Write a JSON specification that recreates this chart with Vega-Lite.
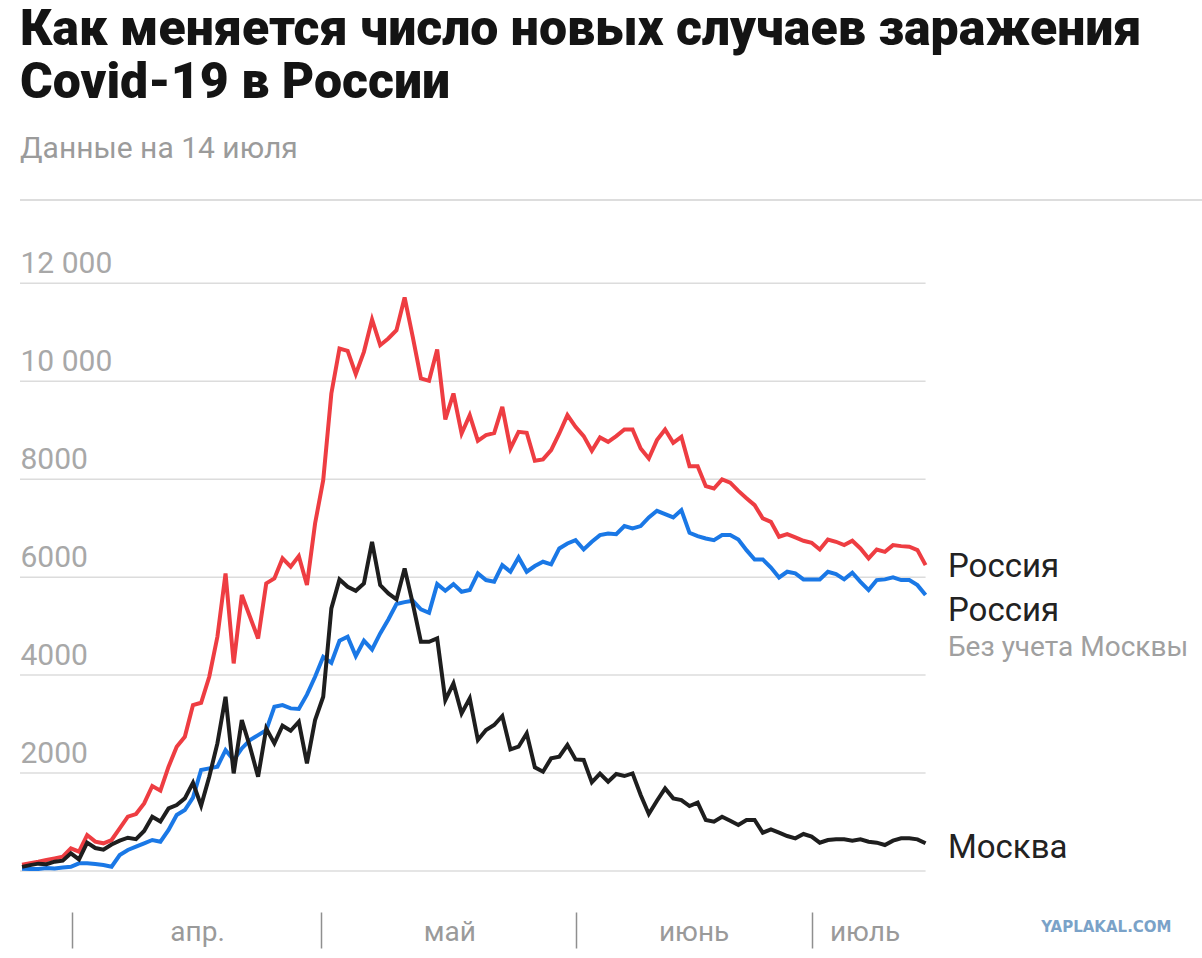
{
  "$schema": "https://vega.github.io/schema/vega-lite/v6.json",
  "width": 1182,
  "height": 671,
  "autosize": {"type": "none"},
  "padding": {"left": 20, "top": 200, "right": 0, "bottom": 87},
  "background": "white",
  "config": {"font": "Roboto", "view": {"stroke": null}},
  "title": {
    "text": ["Как меняется число новых случаев заражения", "Covid-19 в России"],
    "subtitle": "Данные на 14 июля",
    "anchor": "start",
    "frame": "group",
    "font": "Roboto",
    "fontSize": 50,
    "fontWeight": 900,
    "color": "#141414",
    "lineHeight": 53,
    "subtitleFont": "Roboto",
    "subtitleFontSize": 30,
    "subtitleColor": "#9b9b9b",
    "subtitlePadding": 26,
    "offset": 35
  },
  "layer": [
    {
      "data": {"values": [{}]},
      "mark": {"type": "rule", "color": "#dddddd", "strokeWidth": 2},
      "encoding": {
        "y": {"datum": 13700, "type": "quantitative"},
        "x": {"datum": {"year": 2020, "month": 3, "date": 24, "hours": 18, "utc": true}, "type": "temporal"},
        "x2": {"datum": {"year": 2020, "month": 8, "date": 16, "hours": 23, "utc": true}}
      }
    },
    {
      "data": {"values": [{"v": 0}, {"v": 2000}, {"v": 4000}, {"v": 6000}, {"v": 8000}, {"v": 10000}, {"v": 12000}]},
      "mark": {"type": "rule", "color": "#dcdcdc", "strokeWidth": 1.5},
      "encoding": {
        "y": {"field": "v", "type": "quantitative"},
        "x": {"datum": {"year": 2020, "month": 3, "date": 24, "hours": 18, "utc": true}, "type": "temporal"},
        "x2": {"datum": {"year": 2020, "month": 7, "date": 14, "utc": true}}
      }
    },
    {
      "data": {
        "values": [
          {"date": "2020-03-25", "ru": 130, "reg": 45, "msk": 85},
          {"date": "2020-03-26", "ru": 160, "reg": 40, "msk": 120},
          {"date": "2020-03-27", "ru": 190, "reg": 40, "msk": 150},
          {"date": "2020-03-28", "ru": 224, "reg": 60, "msk": 140},
          {"date": "2020-03-29", "ru": 258, "reg": 50, "msk": 190},
          {"date": "2020-03-30", "ru": 292, "reg": 70, "msk": 211},
          {"date": "2020-03-31", "ru": 462, "reg": 85, "msk": 361},
          {"date": "2020-04-01", "ru": 394, "reg": 156, "msk": 238},
          {"date": "2020-04-02", "ru": 734, "reg": 156, "msk": 578},
          {"date": "2020-04-03", "ru": 599, "reg": 143, "msk": 469},
          {"date": "2020-04-04", "ru": 565, "reg": 122, "msk": 435},
          {"date": "2020-04-05", "ru": 633, "reg": 88, "msk": 540},
          {"date": "2020-04-06", "ru": 871, "reg": 326, "msk": 620},
          {"date": "2020-04-07", "ru": 1109, "reg": 429, "msk": 680},
          {"date": "2020-04-08", "ru": 1163, "reg": 497, "msk": 650},
          {"date": "2020-04-09", "ru": 1381, "reg": 565, "msk": 816},
          {"date": "2020-04-10", "ru": 1735, "reg": 633, "msk": 1109},
          {"date": "2020-04-11", "ru": 1640, "reg": 599, "msk": 1010},
          {"date": "2020-04-12", "ru": 2129, "reg": 837, "msk": 1279},
          {"date": "2020-04-13", "ru": 2537, "reg": 1143, "msk": 1347},
          {"date": "2020-04-14", "ru": 2741, "reg": 1245, "msk": 1483},
          {"date": "2020-04-15", "ru": 3388, "reg": 1500, "msk": 1800},
          {"date": "2020-04-16", "ru": 3435, "reg": 2061, "msk": 1334},
          {"date": "2020-04-17", "ru": 3966, "reg": 2095, "msk": 1925},
          {"date": "2020-04-18", "ru": 4782, "reg": 2129, "msk": 2605},
          {"date": "2020-04-19", "ru": 6075, "reg": 2469, "msk": 3558},
          {"date": "2020-04-20", "ru": 4238, "reg": 2265, "msk": 1993},
          {"date": "2020-04-21", "ru": 5634, "reg": 2503, "msk": 3082},
          {"date": "2020-04-22", "ru": 5192, "reg": 2673, "msk": 2537},
          {"date": "2020-04-23", "ru": 4748, "reg": 2775, "msk": 1925},
          {"date": "2020-04-24", "ru": 5872, "reg": 2877, "msk": 2911},
          {"date": "2020-04-25", "ru": 5974, "reg": 3354, "msk": 2605},
          {"date": "2020-04-26", "ru": 6382, "reg": 3388, "msk": 2966},
          {"date": "2020-04-27", "ru": 6212, "reg": 3320, "msk": 2864},
          {"date": "2020-04-28", "ru": 6430, "reg": 3310, "msk": 3047},
          {"date": "2020-04-29", "ru": 5838, "reg": 3600, "msk": 2197},
          {"date": "2020-04-30", "ru": 7096, "reg": 3966, "msk": 3082},
          {"date": "2020-05-01", "ru": 7980, "reg": 4374, "msk": 3558},
          {"date": "2020-05-02", "ru": 9749, "reg": 4252, "msk": 5361},
          {"date": "2020-05-03", "ru": 10668, "reg": 4701, "msk": 5953},
          {"date": "2020-05-04", "ru": 10621, "reg": 4782, "msk": 5804},
          {"date": "2020-05-05", "ru": 10144, "reg": 4387, "msk": 5722},
          {"date": "2020-05-06", "ru": 10600, "reg": 4701, "msk": 5872},
          {"date": "2020-05-07", "ru": 11260, "reg": 4523, "msk": 6722},
          {"date": "2020-05-08", "ru": 10736, "reg": 4850, "msk": 5838},
          {"date": "2020-05-09", "ru": 10873, "reg": 5136, "msk": 5668},
          {"date": "2020-05-10", "ru": 11043, "reg": 5450, "msk": 5545},
          {"date": "2020-05-11", "ru": 11709, "reg": 5490, "msk": 6178},
          {"date": "2020-05-12", "ru": 10906, "reg": 5518, "msk": 5463},
          {"date": "2020-05-13", "ru": 10056, "reg": 5341, "msk": 4680},
          {"date": "2020-05-14", "ru": 10008, "reg": 5273, "msk": 4680},
          {"date": "2020-05-15", "ru": 10647, "reg": 5858, "msk": 4748},
          {"date": "2020-05-16", "ru": 9219, "reg": 5722, "msk": 3490},
          {"date": "2020-05-17", "ru": 9749, "reg": 5858, "msk": 3831},
          {"date": "2020-05-18", "ru": 8933, "reg": 5702, "msk": 3218},
          {"date": "2020-05-19", "ru": 9308, "reg": 5736, "msk": 3524},
          {"date": "2020-05-20", "ru": 8784, "reg": 6076, "msk": 2674},
          {"date": "2020-05-21", "ru": 8900, "reg": 5940, "msk": 2878},
          {"date": "2020-05-22", "ru": 8940, "reg": 5906, "msk": 2980},
          {"date": "2020-05-23", "ru": 9477, "reg": 6246, "msk": 3164},
          {"date": "2020-05-24", "ru": 8627, "reg": 6110, "msk": 2483},
          {"date": "2020-05-25", "ru": 8967, "reg": 6403, "msk": 2538},
          {"date": "2020-05-26", "ru": 8947, "reg": 6110, "msk": 2810},
          {"date": "2020-05-27", "ru": 8375, "reg": 6226, "msk": 2116},
          {"date": "2020-05-28", "ru": 8403, "reg": 6314, "msk": 2028},
          {"date": "2020-05-29", "ru": 8593, "reg": 6260, "msk": 2300},
          {"date": "2020-05-30", "ru": 8933, "reg": 6586, "msk": 2334},
          {"date": "2020-05-31", "ru": 9307, "reg": 6688, "msk": 2572},
          {"date": "2020-06-01", "ru": 9069, "reg": 6756, "msk": 2279},
          {"date": "2020-06-02", "ru": 8879, "reg": 6565, "msk": 2266},
          {"date": "2020-06-03", "ru": 8580, "reg": 6722, "msk": 1810},
          {"date": "2020-06-04", "ru": 8852, "reg": 6858, "msk": 1990},
          {"date": "2020-06-05", "ru": 8763, "reg": 6892, "msk": 1823},
          {"date": "2020-06-06", "ru": 8879, "reg": 6878, "msk": 1980},
          {"date": "2020-06-07", "ru": 9015, "reg": 7042, "msk": 1939},
          {"date": "2020-06-08", "ru": 9015, "reg": 6994, "msk": 1993},
          {"date": "2020-06-09", "ru": 8627, "reg": 7042, "msk": 1551},
          {"date": "2020-06-10", "ru": 8423, "reg": 7218, "msk": 1164},
          {"date": "2020-06-11", "ru": 8797, "reg": 7354, "msk": 1435},
          {"date": "2020-06-12", "ru": 9015, "reg": 7286, "msk": 1687},
          {"date": "2020-06-13", "ru": 8743, "reg": 7218, "msk": 1483},
          {"date": "2020-06-14", "ru": 8865, "reg": 7368, "msk": 1449},
          {"date": "2020-06-15", "ru": 8266, "reg": 6905, "msk": 1327},
          {"date": "2020-06-16", "ru": 8266, "reg": 6837, "msk": 1395},
          {"date": "2020-06-17", "ru": 7858, "reg": 6789, "msk": 1041},
          {"date": "2020-06-18", "ru": 7810, "reg": 6756, "msk": 1007},
          {"date": "2020-06-19", "ru": 7994, "reg": 6858, "msk": 1109},
          {"date": "2020-06-20", "ru": 7930, "reg": 6858, "msk": 1027},
          {"date": "2020-06-21", "ru": 7760, "reg": 6769, "msk": 939},
          {"date": "2020-06-22", "ru": 7610, "reg": 6551, "msk": 1041},
          {"date": "2020-06-23", "ru": 7470, "reg": 6361, "msk": 1041},
          {"date": "2020-06-24", "ru": 7198, "reg": 6361, "msk": 782},
          {"date": "2020-06-25", "ru": 7130, "reg": 6197, "msk": 850},
          {"date": "2020-06-26", "ru": 6824, "reg": 5994, "msk": 782},
          {"date": "2020-06-27", "ru": 6878, "reg": 6110, "msk": 714},
          {"date": "2020-06-28", "ru": 6810, "reg": 6076, "msk": 667},
          {"date": "2020-06-29", "ru": 6742, "reg": 5954, "msk": 755},
          {"date": "2020-06-30", "ru": 6701, "reg": 5954, "msk": 701},
          {"date": "2020-07-01", "ru": 6565, "reg": 5954, "msk": 578},
          {"date": "2020-07-02", "ru": 6769, "reg": 6110, "msk": 633},
          {"date": "2020-07-03", "ru": 6722, "reg": 6062, "msk": 646},
          {"date": "2020-07-04", "ru": 6654, "reg": 5954, "msk": 646},
          {"date": "2020-07-05", "ru": 6742, "reg": 6090, "msk": 619},
          {"date": "2020-07-06", "ru": 6586, "reg": 5905, "msk": 646},
          {"date": "2020-07-07", "ru": 6382, "reg": 5735, "msk": 599},
          {"date": "2020-07-08", "ru": 6565, "reg": 5940, "msk": 578},
          {"date": "2020-07-09", "ru": 6517, "reg": 5954, "msk": 531},
          {"date": "2020-07-10", "ru": 6654, "reg": 5994, "msk": 619},
          {"date": "2020-07-11", "ru": 6633, "reg": 5940, "msk": 667},
          {"date": "2020-07-12", "ru": 6620, "reg": 5940, "msk": 667},
          {"date": "2020-07-13", "ru": 6552, "reg": 5837, "msk": 646},
          {"date": "2020-07-14", "ru": 6245, "reg": 5633, "msk": 565}
        ]
      },
      "transform": [{"fold": ["ru", "reg", "msk"], "as": ["series", "value"]}],
      "mark": {"type": "line", "strokeWidth": 4},
      "encoding": {
        "x": {
          "field": "date",
          "type": "temporal",
          "scale": {
            "type": "utc",
            "domain": [
              {"year": 2020, "month": 3, "date": 24, "hours": 18, "utc": true},
              {"year": 2020, "month": 8, "date": 16, "hours": 23, "utc": true}
            ]
          },
          "axis": {
            "title": null,
            "domain": false,
            "grid": false,
            "offset": 41,
            "tickSize": 36,
            "tickWidth": 1.5,
            "tickColor": "#8f8f8f",
            "tickOpacity": {"condition": {"test": "utchours(datum.value) == 12", "value": 0}, "value": 1},
            "values": [
              {"year": 2020, "month": 3, "date": 31, "hours": 3, "utc": true},
              {"year": 2020, "month": 4, "date": 15, "hours": 12, "utc": true},
              {"year": 2020, "month": 4, "date": 30, "hours": 17, "utc": true},
              {"year": 2020, "month": 5, "date": 16, "hours": 12, "utc": true},
              {"year": 2020, "month": 6, "date": 1, "hours": 1, "utc": true},
              {"year": 2020, "month": 6, "date": 15, "hours": 12, "utc": true},
              {"year": 2020, "month": 6, "date": 30, "hours": 1, "utc": true},
              {"year": 2020, "month": 7, "date": 6, "hours": 12, "utc": true}
            ],
            "labelExpr": "utchours(datum.value) == 12 ? ['', '', '', 'апр.', 'май', 'июнь', 'июль', ''][utcmonth(datum.value)] : ''",
            "labelPadding": -8,
            "labelBaseline": "alphabetic",
            "labelFontSize": 28,
            "labelColor": "#9a9a9a",
            "labelFlush": false,
            "labelOverlap": false,
            "labelBound": false
          }
        },
        "y": {
          "field": "value",
          "type": "quantitative",
          "scale": {"domain": [0, 13700], "nice": false},
          "axis": {
            "title": null,
            "domain": false,
            "ticks": false,
            "tickSize": 0,
            "grid": false,
            "values": [2000, 4000, 6000, 8000, 10000, 12000],
            "labelExpr": "datum.value >= 10000 ? replace(format(datum.value, ','), ',', ' ') : format(datum.value, 'd')",
            "labelAlign": "left",
            "labelBaseline": "alphabetic",
            "labelPadding": 0,
            "labelOffset": -11,
            "labelFontSize": 30,
            "labelColor": "#a8a8a8",
            "labelOverlap": false
          }
        },
        "color": {
          "field": "series",
          "type": "nominal",
          "scale": {"domain": ["ru", "reg", "msk"], "range": ["#ee3d42", "#1a78e6", "#1e1e1e"]},
          "legend": null
        }
      }
    },
    {
      "data": {"values": [{"label": "Россия", "v": 6000}, {"label": "Россия", "v": 5100}, {"label": "Москва", "v": 260}]},
      "mark": {"type": "text", "align": "left", "baseline": "alphabetic", "fontSize": 33, "color": "#222222"},
      "encoding": {
        "x": {"datum": {"year": 2020, "month": 7, "date": 16, "hours": 18, "utc": true}, "type": "temporal"},
        "y": {"field": "v", "type": "quantitative"},
        "text": {"field": "label"}
      }
    },
    {
      "data": {"values": [{"label": "Без учета Москвы", "v": 4380}]},
      "mark": {"type": "text", "align": "left", "baseline": "alphabetic", "fontSize": 28, "color": "#a0a0a0"},
      "encoding": {
        "x": {"datum": {"year": 2020, "month": 7, "date": 16, "hours": 18, "utc": true}, "type": "temporal"},
        "y": {"field": "v", "type": "quantitative"},
        "text": {"field": "label"}
      }
    },
    {
      "data": {"values": [{"label": "YAPLAKAL.COM", "v": -1143}]},
      "mark": {"type": "text", "align": "center", "baseline": "middle", "font": "DejaVu Sans", "fontSize": 15, "fontWeight": "bold", "color": "#7aa2c8"},
      "encoding": {
        "x": {"datum": {"year": 2020, "month": 8, "date": 5, "hours": 5, "utc": true}, "type": "temporal"},
        "y": {"field": "v", "type": "quantitative"},
        "text": {"field": "label"}
      }
    }
  ]
}
